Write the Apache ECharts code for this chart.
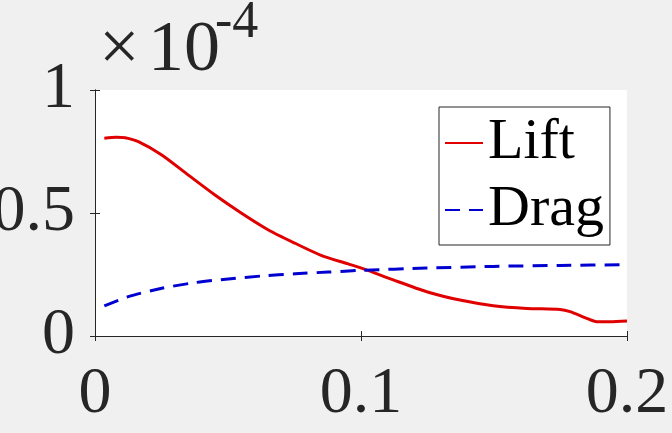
<!DOCTYPE html>
<html>
<head>
<meta charset="utf-8">
<script src="https://cdn.jsdelivr.net/npm/echarts@6/dist/echarts.min.js"></script>
<style>
html,body{margin:0;padding:0;background:#f0f0f0;}
#c{width:672px;height:433px;}
</style>
</head>
<body>
<div id="c"></div>
<script>
// Data (values in units of 1e-4)
const seriesNames = ['Lift', 'Drag'];
const liftX = [0.0035, 0.008, 0.0113, 0.0163, 0.0251, 0.0351, 0.0451, 0.0551, 0.0652, 0.0752, 0.0852, 0.0952, 0.1015, 0.1121, 0.1247, 0.1372, 0.1497, 0.1623, 0.1748, 0.1786, 0.1848, 0.1886, 0.1936, 0.2];
const liftY = [0.804, 0.808, 0.806, 0.790, 0.736, 0.654, 0.573, 0.499, 0.431, 0.377, 0.327, 0.293, 0.271, 0.228, 0.180, 0.146, 0.123, 0.112, 0.108, 0.099, 0.072, 0.058, 0.058, 0.061];
const dragX = [0.0035, 0.0125, 0.0251, 0.0376, 0.0501, 0.0627, 0.0752, 0.0877, 0.1003, 0.1247, 0.1497, 0.1748, 0.2];
const dragY = [0.122, 0.160, 0.194, 0.217, 0.232, 0.244, 0.253, 0.260, 0.267, 0.276, 0.283, 0.287, 0.290];
const xTicks = [0, 0.1, 0.2];
const yTicks = [0, 0.5, 1];
const exponentTimes = '×';
const exponentBase = '10';
const exponentPower = '-4';

const FONT = 'Liberation Serif';
const AX = '#262626';

const chart = echarts.init(document.getElementById('c'));
const axisCommon = {
  axisLine: {show: true, lineStyle: {color: AX, width: 1}},
  axisTick: {show: true, inside: true, length: 5, lineStyle: {color: AX}},
  splitLine: {show: false}
};
chart.setOption({
  backgroundColor: '#f0f0f0',
  animation: false,
  grid: {left: 95, top: 90, width: 532, height: 246, show: true, backgroundColor: '#ffffff', borderWidth: 0,
    containLabel: false, outerBoundsMode: 'none'},
  xAxis: [
    Object.assign({type: 'value', min: xTicks[0], max: xTicks[xTicks.length-1], interval: xTicks[1]-xTicks[0], position: 'bottom',
      axisLabel: {fontFamily: FONT, fontSize: 66, color: '#262626', margin: 26, formatter: v => String(+v.toFixed(2))}}, axisCommon),
    Object.assign({type: 'value', min: xTicks[0], max: xTicks[xTicks.length-1], interval: xTicks[1]-xTicks[0], position: 'top',
      axisLabel: {show: false}}, axisCommon)
  ],
  yAxis: [
    Object.assign({type: 'value', min: yTicks[0], max: yTicks[yTicks.length-1], interval: yTicks[1]-yTicks[0], position: 'left',
      axisLabel: {fontFamily: FONT, fontSize: 66, color: '#262626', margin: 20, formatter: v => String(+v.toFixed(2))}}, axisCommon),
    Object.assign({type: 'value', min: yTicks[0], max: yTicks[yTicks.length-1], interval: yTicks[1]-yTicks[0], position: 'right',
      axisLabel: {show: false}}, axisCommon)
  ],
  legend: {
    orient: 'vertical', left: 439, top: 107,
    padding: [7, 6, 6, 5], itemWidth: 38, itemHeight: 14, itemGap: 9,
    backgroundColor: '#ffffff', borderColor: AX, borderWidth: 1,
    itemStyle: {opacity: 0},
    textStyle: {fontFamily: FONT, fontSize: 58, lineHeight: 58, color: '#000'},
    data: seriesNames
  },
  graphic: [
    {type: 'text', left: 99, top: 15, style: {text: exponentTimes, fontFamily: FONT, fontSize: 72, fill: '#262626'}},
    {type: 'text', left: 148, top: 15, style: {text: exponentBase, fontFamily: FONT, fontSize: 72, fill: '#262626'}},
    {type: 'text', left: 215, top: -3, style: {text: exponentPower, fontFamily: FONT, fontSize: 52, fill: '#262626'}}
  ],
  series: [
    {name: seriesNames[0], type: 'line', xAxisIndex: 0, yAxisIndex: 0, symbol: 'none', smooth: 0.25,
      data: liftX.map((x, i) => [x, liftY[i]]),
      lineStyle: {color: '#e00000', width: 3}, itemStyle: {color: '#e00000'}},
    {name: seriesNames[1], type: 'line', xAxisIndex: 0, yAxisIndex: 0, symbol: 'none', smooth: 0.25,
      data: dragX.map((x, i) => [x, dragY[i]]),
      lineStyle: {color: '#0000d0', width: 3, type: [15, 9]}, itemStyle: {color: '#0000d0'}}
  ]
});
</script>
</body>
</html>
